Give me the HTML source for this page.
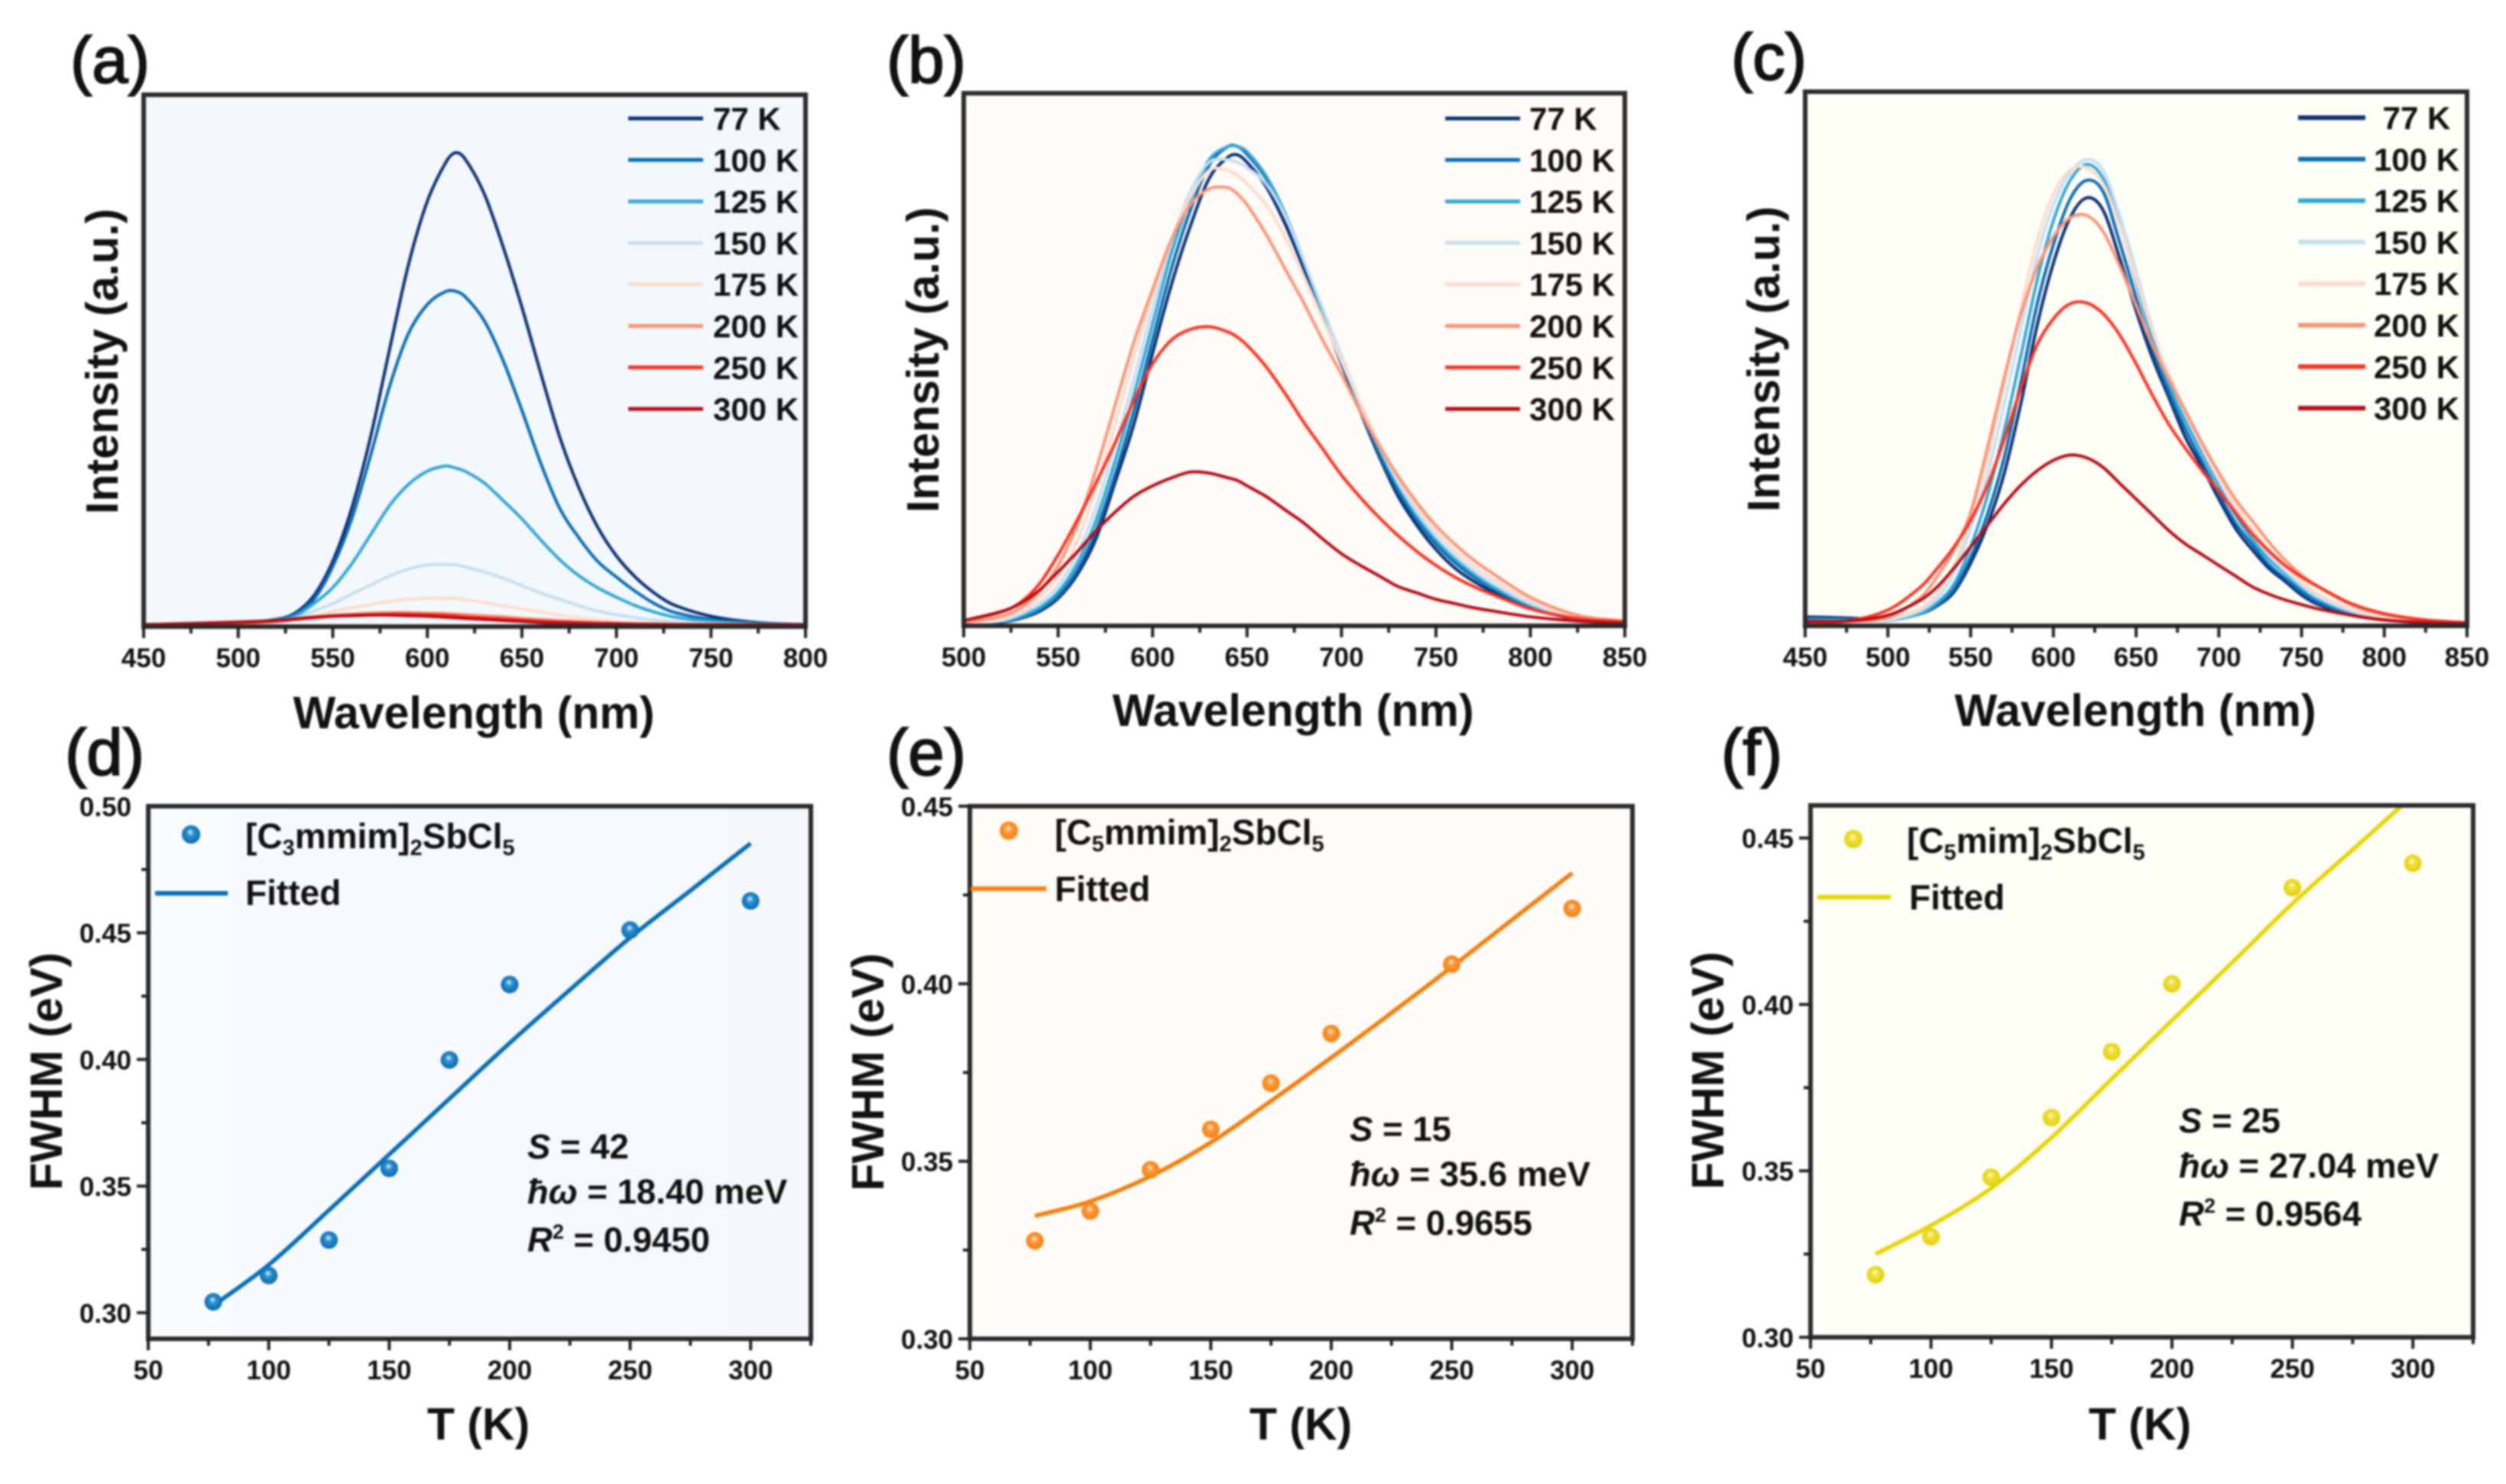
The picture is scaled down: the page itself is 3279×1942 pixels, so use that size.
<!DOCTYPE html>
<html lang="en">
<head>
<meta charset="utf-8">
<title>Temperature-dependent PL spectra and FWHM fits</title>
<style>
html,body{margin:0;padding:0;background:#fff;}
svg{display:block;filter:blur(1.25px);}
text{font-family:"Liberation Sans",sans-serif;fill:#111;}
.tick{font-size:35px;font-weight:700;}
.title{font-size:59px;font-weight:700;}
.plabel{font-size:85px;font-weight:400;stroke:#111;stroke-width:2px;}
.leg{font-size:42px;font-weight:700;}
.lg2{font-size:46px;font-weight:700;}
.ann{font-size:45.5px;font-weight:700;}
</style>
</head>
<body>
<svg id="figure" xmlns="http://www.w3.org/2000/svg" width="3279" height="1942" viewBox="0 0 3279 1942">
  <defs>
    <radialGradient id="ballD" cx="0.5" cy="0.5" r="0.55" fx="0.45" fy="0.35"><stop offset="0" stop-color="#eaf6ff"/><stop offset="0.35" stop-color="#2c90cf"/><stop offset="1" stop-color="#0565ad"/></radialGradient>
    <radialGradient id="ballE" cx="0.5" cy="0.5" r="0.55" fx="0.45" fy="0.35"><stop offset="0" stop-color="#fff1df"/><stop offset="0.35" stop-color="#fb9a3b"/><stop offset="1" stop-color="#f47d0c"/></radialGradient>
    <radialGradient id="ballF" cx="0.5" cy="0.5" r="0.55" fx="0.45" fy="0.35"><stop offset="0" stop-color="#fffde0"/><stop offset="0.35" stop-color="#efdf3c"/><stop offset="1" stop-color="#e3cf05"/></radialGradient>
    <linearGradient id="bgD" x1="0" y1="0" x2="1" y2="0"><stop offset="0" stop-color="#f8fbff"/><stop offset="1" stop-color="#f4f8fb"/></linearGradient>
  </defs>
  <rect x="0" y="0" width="3279" height="1942" fill="#ffffff"/>

  <g id="panel-a"></g>
  <g id="panel-b"></g>
  <g id="panel-c"></g>
  <g id="panel-d"></g>
  <g id="panel-e"></g>
  <g id="panel-f"></g>

  <text class="plabel" x="92" y="108">(a)</text>
  <text class="plabel" x="1160" y="108">(b)</text>
  <text class="plabel" x="2265" y="104">(c)</text>
  <text class="plabel" x="85" y="1014">(d)</text>
  <text class="plabel" x="1160" y="1014">(e)</text>
  <text class="plabel" x="2252" y="1014">(f)</text>

  <text class="title" x="620" y="953" text-anchor="middle">Wavelength (nm)</text>
  <text class="title" x="1692" y="950" text-anchor="middle">Wavelength (nm)</text>
  <text class="title" x="2794" y="950" text-anchor="middle">Wavelength (nm)</text>
  <text class="title" transform="translate(154 473) rotate(-90)" text-anchor="middle">Intensity (a.u.)</text>
  <text class="title" transform="translate(1228 471) rotate(-90)" text-anchor="middle">Intensity (a.u.)</text>
  <text class="title" transform="translate(2328 470) rotate(-90)" text-anchor="middle">Intensity (a.u.)</text>

  <text class="title" x="626" y="1884" text-anchor="middle">T (K)</text>
  <text class="title" x="1702" y="1884" text-anchor="middle">T (K)</text>
  <text class="title" x="2800" y="1884" text-anchor="middle">T (K)</text>
  <text class="title" transform="translate(81 1402) rotate(-90)" text-anchor="middle">FWHM (eV)</text>
  <text class="title" transform="translate(1156 1403) rotate(-90)" text-anchor="middle">FWHM (eV)</text>
  <text class="title" transform="translate(2255 1401) rotate(-90)" text-anchor="middle">FWHM (eV)</text>

  <g>
    <circle cx="250" cy="1092" r="12" fill="url(#ballD)"/>
    <text class="lg2" x="321" y="1110">[C<tspan font-size="29" dy="9">3</tspan><tspan dy="-9">mmim]</tspan><tspan font-size="29" dy="9">2</tspan><tspan dy="-9">SbCl</tspan><tspan font-size="29" dy="9">5</tspan></text>
    <line x1="203" y1="1169" x2="298" y2="1169" stroke="#0a6fb4" stroke-width="6"/>
    <text class="lg2" x="321" y="1184">Fitted</text>
  </g>
  <g>
    <circle cx="1320" cy="1087" r="12" fill="url(#ballE)"/>
    <text class="lg2" x="1380" y="1105">[C<tspan font-size="29" dy="9">5</tspan><tspan dy="-9">mmim]</tspan><tspan font-size="29" dy="9">2</tspan><tspan dy="-9">SbCl</tspan><tspan font-size="29" dy="9">5</tspan></text>
    <line x1="1270" y1="1163" x2="1369" y2="1163" stroke="#f57f0f" stroke-width="6"/>
    <text class="lg2" x="1380" y="1179">Fitted</text>
  </g>
  <g>
    <circle cx="2425" cy="1098" r="12" fill="url(#ballF)"/>
    <text class="lg2" x="2495" y="1116">[C<tspan font-size="29" dy="9">5</tspan><tspan dy="-9">mim]</tspan><tspan font-size="29" dy="9">2</tspan><tspan dy="-9">SbCl</tspan><tspan font-size="29" dy="9">5</tspan></text>
    <line x1="2378" y1="1174" x2="2474" y2="1174" stroke="#e8d509" stroke-width="6"/>
    <text class="lg2" x="2498" y="1190">Fitted</text>
  </g>

  <g>
    <text class="ann" x="690" y="1516"><tspan font-style="italic">S</tspan> = 42</text>
    <text class="ann" x="690" y="1575"><tspan font-style="italic">ħω</tspan> = 18.40 meV</text>
    <text class="ann" x="690" y="1638"><tspan font-style="italic">R</tspan><tspan font-size="27" dy="-17">2</tspan><tspan dy="17"> = 0.9450</tspan></text>
  </g>
  <g>
    <text class="ann" x="1766" y="1493"><tspan font-style="italic">S</tspan> = 15</text>
    <text class="ann" x="1766" y="1552"><tspan font-style="italic">ħω</tspan> = 35.6 meV</text>
    <text class="ann" x="1766" y="1616"><tspan font-style="italic">R</tspan><tspan font-size="27" dy="-17">2</tspan><tspan dy="17"> = 0.9655</tspan></text>
  </g>
  <g>
    <text class="ann" x="2851" y="1482"><tspan font-style="italic">S</tspan> = 25</text>
    <text class="ann" x="2851" y="1541"><tspan font-style="italic">ħω</tspan> = 27.04 meV</text>
    <text class="ann" x="2851" y="1604"><tspan font-style="italic">R</tspan><tspan font-size="27" dy="-17">2</tspan><tspan dy="17"> = 0.9564</tspan></text>
  </g>
</svg>

<script>
// ---- Shared series labels ----
const temperatureLabels = ['77 K','100 K','125 K','150 K','175 K','200 K','250 K','300 K'];

// ---- Panel (a) ----
const aWavelengths = [450,500,520,530,540,550,560,570,580,590,600,610,615,620,630,640,650,660,670,680,690,700,710,720,730,750,775,800];
const aI77  = [0,.3,1,2.2,5.5,12,22,35.5,52,68,80,87.5,89.2,88,81.5,71.5,60,47.5,35.5,26,18.5,13,9,6,3.8,1.6,.4,0];
const aI100 = [0,.3,1,2,4.8,11,20,32,45,55,60.5,63,63,62,57.5,50,40.5,30.5,22,16.5,12,9,6.3,4,2.4,1,.3,0];
const aI125 = [0,.2,.8,1.6,4,7,11.5,17,22.5,26.5,29,30,29.6,29,26.8,23.5,20,16,12.3,9.3,7,5.2,3.6,2.4,1.5,.6,.1,0];
const aI150 = [0,.1,.6,1.2,2.6,4,5.8,7.5,9.2,10.5,11.3,11.4,11.3,10.9,10,8.8,7.4,6,4.8,3.6,2.6,1.9,1.3,.9,.6,.2,0,0];
const aI175 = [0,.2,.5,1,1.7,2.5,3.2,3.8,4.4,4.8,5,5,5,4.7,4.2,3.6,3,2.4,1.8,1.3,.9,.6,.4,.3,.2,.1,0,0];
const aI200 = [0,.3,.6,1,1.4,1.8,2,2.2,2.3,2.3,2.2,2.1,2,1.9,1.7,1.5,1.2,1,.8,.6,.4,.3,.2,.1,.1,0,0,0];
const aI250 = [0,.4,.7,1,1.3,1.6,1.8,1.9,2,2,1.9,1.8,1.7,1.5,1.3,1.1,.9,.7,.5,.4,.3,.2,.1,.1,0,0,0,0];
const aI300 = [0,.5,.8,1.1,1.4,1.6,1.7,1.8,1.8,1.7,1.6,1.4,1.3,1.2,1,.8,.6,.4,.3,.2,.1,.1,0,0,0,0,0,0];
const aXTicks = ['450','500','550','600','650','700','750','800'];

// ---- Panel (b) ----
const bWavelengths = [500,520,530,540,550,560,570,580,590,600,610,620,630,640,645,650,660,670,680,690,700,710,720,730,740,750,760,770,780,800,825,850];
const bI77  = [0,.3,1,2.3,4.8,9.2,16,26.5,37.5,51,64,75,84,88,88.4,87,82.5,75.5,67,58,49,40,31.5,24,18.5,14,10.5,8,6,3,.8,.2];
const bI100 = [0,.4,1.1,2.6,5.2,10,17.5,28,40,53.5,67,78,86.5,90,90,88.5,84,77,68,58.5,49.5,40.5,32,25,19.5,15,11.5,8.8,6.6,3.2,.9,.2];
const bI125 = [0,.5,1.4,3,6,11.3,19.5,30.5,43,56.5,70,80,87.5,90,90,89,84.5,77.5,68.5,59,50,41,33,26,20.3,15.8,12.2,9.4,7,3.5,1,.3];
const bI150 = [0,.6,1.8,3.8,7.2,13,22,33.5,46,59.5,72,81.5,87,87.5,87,86,83,77,68.5,59.5,50.5,41.5,33.5,26.6,21,16.5,12.9,10,7.6,3.8,1.1,.3];
const bI175 = [.1,.9,2.4,4.8,8.8,15.5,25.5,37.5,50,62,72.5,80.5,85.5,85.5,84.5,83,79,73,65.5,57.5,49.5,41.5,34,27.5,22,17.5,13.8,10.9,8.4,4.4,1.3,.4];
const bI200 = [.2,1.4,3,6,11,18.5,29,41,53,63,72.5,79,82,82.2,81,79,73.5,67,60.5,53.5,47,40,33.5,27.8,22.8,18.5,15,12,9.5,5,1.6,.5];
const bI250 = [.6,2.2,4,7.5,13,19.5,26.5,34,42,49,53.5,55.5,56,55,54,52.5,48.5,43.5,38,33,28,23.8,20,16.6,13.6,11,8.8,7,5.5,2.8,1,.3];
const bI300 = [.6,2.3,3.8,6.3,9.8,13.5,17.5,21,24,26,27.5,28.6,28.4,27.5,27,26,24,21.5,19,16,13.2,11,9,7,5.8,4.6,3.8,3,2.4,1.3,.5,.1];
const bXTicks = ['500','550','600','650','700','750','800','850'];

// ---- Panel (c) ----
const cWavelengths = [450,475,500,520,530,540,550,560,570,580,590,600,610,620,630,640,650,660,670,680,690,700,710,720,730,740,750,760,780,800,825,850];
const cI77  = [1.3,1.1,.8,1.9,3.4,6,11.4,18.5,28,41,56,68,76.5,80.3,78,69,59,50,42.5,35,29.5,23.5,18,14,10.5,8,5.4,3.6,1.6,.7,.2,0];
const cI100 = [1,.9,.7,1.9,3.6,6.6,12.5,20.5,31,45,60,71.5,80,83.6,81.5,72,61.5,51.5,43.5,36.5,30.5,24.5,19,15,11.2,8.6,6,4,1.8,.8,.2,0];
const cI125 = [.7,.6,.6,2,4,7.5,14.5,24,36,50,64.5,76,83.5,86.6,84,75.5,64.5,53.5,45,38,32,26,20.5,16,12.2,9.5,6.7,4.6,2.1,.9,.2,0];
const cI150 = [.5,.5,.7,2.5,5,9.5,18,28,41,55,69,79,85,87.5,85.5,77,66.5,55.5,46.5,39.5,33,27,21.5,17,13,10,7.2,5,2.4,1,.3,0];
const cI175 = [.4,.4,.9,3,6,11,20,31,45,59,72,81,85.5,86,83,75,65,55,47,40,33.5,27.5,22.5,18,14,11,8,5.6,2.8,1.2,.4,.1];
const cI200 = [.3,.4,1.2,5,9,14,21,33,46,58,67,73,76.5,77,74,67.5,60,52.5,46,40,34,28.5,23.5,19.5,15.5,12,9.2,7,3.6,1.8,.6,.2];
const cI250 = [.2,.5,2.6,7,10.5,14.5,19.5,26,34.5,44,52.5,57.5,60.3,60.5,58.5,54.5,49,43,37.5,33,28.8,25,21,17,13.8,11,8.8,7,3.8,1.9,.7,.2];
const cI300 = [.5,.5,1.6,4.5,7,10.5,14.5,18.5,22.5,26,28.8,30.8,31.8,31.3,29.5,26.5,23.5,20.5,17.5,15,13,11,9,7,5.6,4.5,3.6,2.8,1.6,.7,.2,0];
const cXTicks = ['450','500','550','600','650','700','750','800','850'];

// ---- Panels (d,e,f): measured FWHM and fit ----
const measuredT = [77,100,125,150,175,200,250,300];
const fitT = [77,100,125,150,175,200,225,250,275,300];
const dFwhm = [.3043,.3147,.3287,.357,.3998,.4296,.4511,.4626];
const dFit  = [.3028,.3189,.3405,.3625,.3845,.4065,.4275,.4481,.4667,.4853];
const eFwhm = [.3276,.336,.3476,.359,.372,.386,.4055,.4212];
const eFit  = [.3346,.3387,.3458,.3553,.367,.3792,.3918,.4047,.418,.4312];
const fFwhm = [.3188,.3302,.3481,.366,.3858,.4062,.4351,.4424];
const fFit  = [.325,.3336,.3448,.36,.3776,.3952,.4126,.4303,.4465,.4627];
const tempXTicks = ['50','100','150','200','250','300'];
const dYTicks = ['0.30','0.35','0.40','0.45','0.50'];
const efYTicks = ['0.30','0.35','0.40','0.45'];

// ---- Styling / layout (separate from the data) ----
const spectraColors = ['#0b2f74','#0a6cb2','#35a6d5','#c5dff2','#fddccd','#fc9477','#fb3222','#b40d18'];
const spectraPanels = [
  {id:'a', bg:'#f3f8fc', L:188, R:1054, T:124, B:820, y0:817.5, unit:6.925, xMin:450, xMax:800, xs:aWavelengths, ticks:aXTicks,
   series:[aI77,aI100,aI125,aI150,aI175,aI200,aI250,aI300], legX1:822, legX2:920, legText:933, legAnchor:'start', legY:155, legW:5},
  {id:'b', bg:'#fffbf6', L:1261, R:2126, T:122, B:819, y0:816.2, unit:6.94, xMin:500, xMax:850, xs:bWavelengths, ticks:bXTicks,
   series:[bI77,bI100,bI125,bI150,bI175,bI200,bI250,bI300], legX1:1891, legX2:1989, legText:2001, legAnchor:'start', legY:155, legW:5},
  {id:'c', bg:'#fffef7', L:2362, R:3228, T:120, B:819, y0:816.2, unit:6.94, xMin:450, xMax:850, xs:cWavelengths, ticks:cXTicks,
   series:[cI77,cI100,cI125,cI150,cI175,cI200,cI250,cI300], legX1:3007, legX2:3095, legText:3162, legAnchor:'middle', legY:154, legW:6}
];
const fwhmPanels = [
  {id:'d', bg:'url(#bgD)', L:194, R:1061, T:1055, B:1752, yMin:.2897, yMax:.5, yTicks:dYTicks, vals:dFwhm, fit:dFit, color:'#0a6fb4', ball:'url(#ballD)'},
  {id:'e', bg:'#fffbf6', L:1269, R:2136, T:1055, B:1752, yMin:.3, yMax:.45, yTicks:efYTicks, vals:eFwhm, fit:eFit, color:'#f57f0f', ball:'url(#ballE)'},
  {id:'f', bg:'#fefef6', L:2369, R:3236, T:1054, B:1750, yMin:.3, yMax:.4598, yTicks:efYTicks, vals:fFwhm, fit:fFit, color:'#e8d509', ball:'url(#ballF)'}
];

const NS = 'http://www.w3.org/2000/svg';
function make(parent, tag, attrs, text) {
  const el = document.createElementNS(NS, tag);
  for (const k in attrs) el.setAttribute(k, attrs[k]);
  if (text !== undefined) el.textContent = text;
  parent.appendChild(el);
  return el;
}
// Hermite spline honouring uneven x spacing
function smoothPath(pts) {
  let d = 'M' + pts[0][0].toFixed(1) + ' ' + pts[0][1].toFixed(1);
  function slope(i) {
    const a = pts[Math.max(i - 1, 0)], b = pts[Math.min(i + 1, pts.length - 1)];
    return (b[1] - a[1]) / (b[0] - a[0]);
  }
  for (let i = 0; i < pts.length - 1; i++) {
    const p1 = pts[i], p2 = pts[i + 1], h = (p2[0] - p1[0]) / 3;
    d += 'C' + (p1[0] + h).toFixed(1) + ' ' + (p1[1] + slope(i) * h).toFixed(1) + ' ' + (p2[0] - h).toFixed(1) + ' ' + (p2[1] - slope(i + 1) * h).toFixed(1) + ' ' + p2[0].toFixed(1) + ' ' + p2[1].toFixed(1);
  }
  return d;
}
function drawBackground(g, p) {
  const bg = make(g, 'rect', {x:p.L, y:p.T, width:p.R - p.L, height:p.B - p.T, fill:p.bg});
  
  
  const defs = make(g, 'clipPath', {id:'clip-' + p.id});
  make(defs, 'rect', {x:p.L, y:p.T, width:p.R - p.L, height:p.B - p.T});
}
function drawFrame(g, p) {
  const fr = make(g, 'rect', {x:p.L, y:p.T, width:p.R - p.L, height:p.B - p.T, fill:'none', stroke:'#2b2b2b', 'stroke-width':6});
  
  
}
function tickLine(g, x1, y1, x2, y2, name) {
  const t = make(g, 'line', {x1:x1, y1:y1, x2:x2, y2:y2, stroke:'#222', 'stroke-width':4});
  
  
}
function drawXAxis(g, p, xScale, labels, lo, hi) {
  const step = Number(labels[1]) - Number(labels[0]);
  for (let v = lo; v <= hi + 0.001; v += step / 2) {
    const major = labels.indexOf(String(v)) >= 0;
    tickLine(g, xScale(v), p.B, xScale(v), p.B + (major ? 15 : 9), (major ? 'x-major-tick-' : 'x-minor-tick-') + p.id + '-' + v);
  }
  labels.forEach(function (lab) {
    const t = make(g, 'text', {x:xScale(Number(lab)), y:p.B + 53, 'text-anchor':'middle', 'class':'tick'}, lab);
    
    
  });
}

spectraPanels.forEach(function (p) {
  const g = document.getElementById('panel-' + p.id);
  const xScale = function (v) { return p.L + (v - p.xMin) / (p.xMax - p.xMin) * (p.R - p.L); };
  const yScale = function (v) { return p.y0 - v * p.unit; };
  drawBackground(g, p);
  const curves = make(g, 'g', {'clip-path':'url(#clip-' + p.id + ')'});
  
  
  p.series.forEach(function (vals, i) {
    const pts = vals.map(function (v, k) { return [xScale(p.xs[k]), yScale(v)]; });
    const path = make(curves, 'path', {d:smoothPath(pts), fill:'none', stroke:spectraColors[i], 'stroke-width':4, 'stroke-linejoin':'round'});
    
    
  });
  drawFrame(g, p);
  drawXAxis(g, p, xScale, p.ticks, p.xMin, p.xMax);
  temperatureLabels.forEach(function (lab, i) {
    const y = p.legY + i * 54.3;
    const line = make(g, 'line', {x1:p.legX1, y1:y, x2:p.legX2, y2:y, stroke:spectraColors[i], 'stroke-width':p.legW});
    
    
    const t = make(g, 'text', {x:p.legText, y:y + 15, 'text-anchor':p.legAnchor, 'class':'leg'}, lab);
    
    
  });
});

fwhmPanels.forEach(function (p) {
  const g = document.getElementById('panel-' + p.id);
  const xScale = function (v) { return p.L + (v - 50) / 275 * (p.R - p.L); };
  const yScale = function (v) { return p.B - (v - p.yMin) / (p.yMax - p.yMin) * (p.B - p.T); };
  drawBackground(g, p);
  const marks = make(g, 'g', {'clip-path':'url(#clip-' + p.id + ')'});
  
  
  const pts = p.fit.map(function (v, k) { return [xScale(fitT[k]), yScale(v)]; });
  const fitPath = make(marks, 'path', {d:smoothPath(pts), fill:'none', stroke:p.color, 'stroke-width':5.5});
  
  
  p.vals.forEach(function (v, k) {
    const c = make(marks, 'circle', {cx:xScale(measuredT[k]), cy:yScale(v), r:11.5, fill:p.ball});
    
    
  });
  drawFrame(g, p);
  drawXAxis(g, p, xScale, tempXTicks, 50, 325);
  const yStep = 0.05;
  for (let i = 0; i < 8; i++) {
    const major = i % 2 === 0;
    const v = 0.30 + i * yStep / 2;
    if (v > p.yMax + 0.0001) break;
    tickLine(g, p.L, yScale(v), p.L - (major ? 15 : 9), yScale(v), (major ? 'y-major-tick-' : 'y-minor-tick-') + p.id + '-' + v.toFixed(3));
  }
  p.yTicks.forEach(function (lab) {
    const t = make(g, 'text', {x:p.L - 22, y:yScale(Number(lab)) + 13, 'text-anchor':'end', 'class':'tick'}, lab);
    
    
  });
});
</script>
</body>
</html>
